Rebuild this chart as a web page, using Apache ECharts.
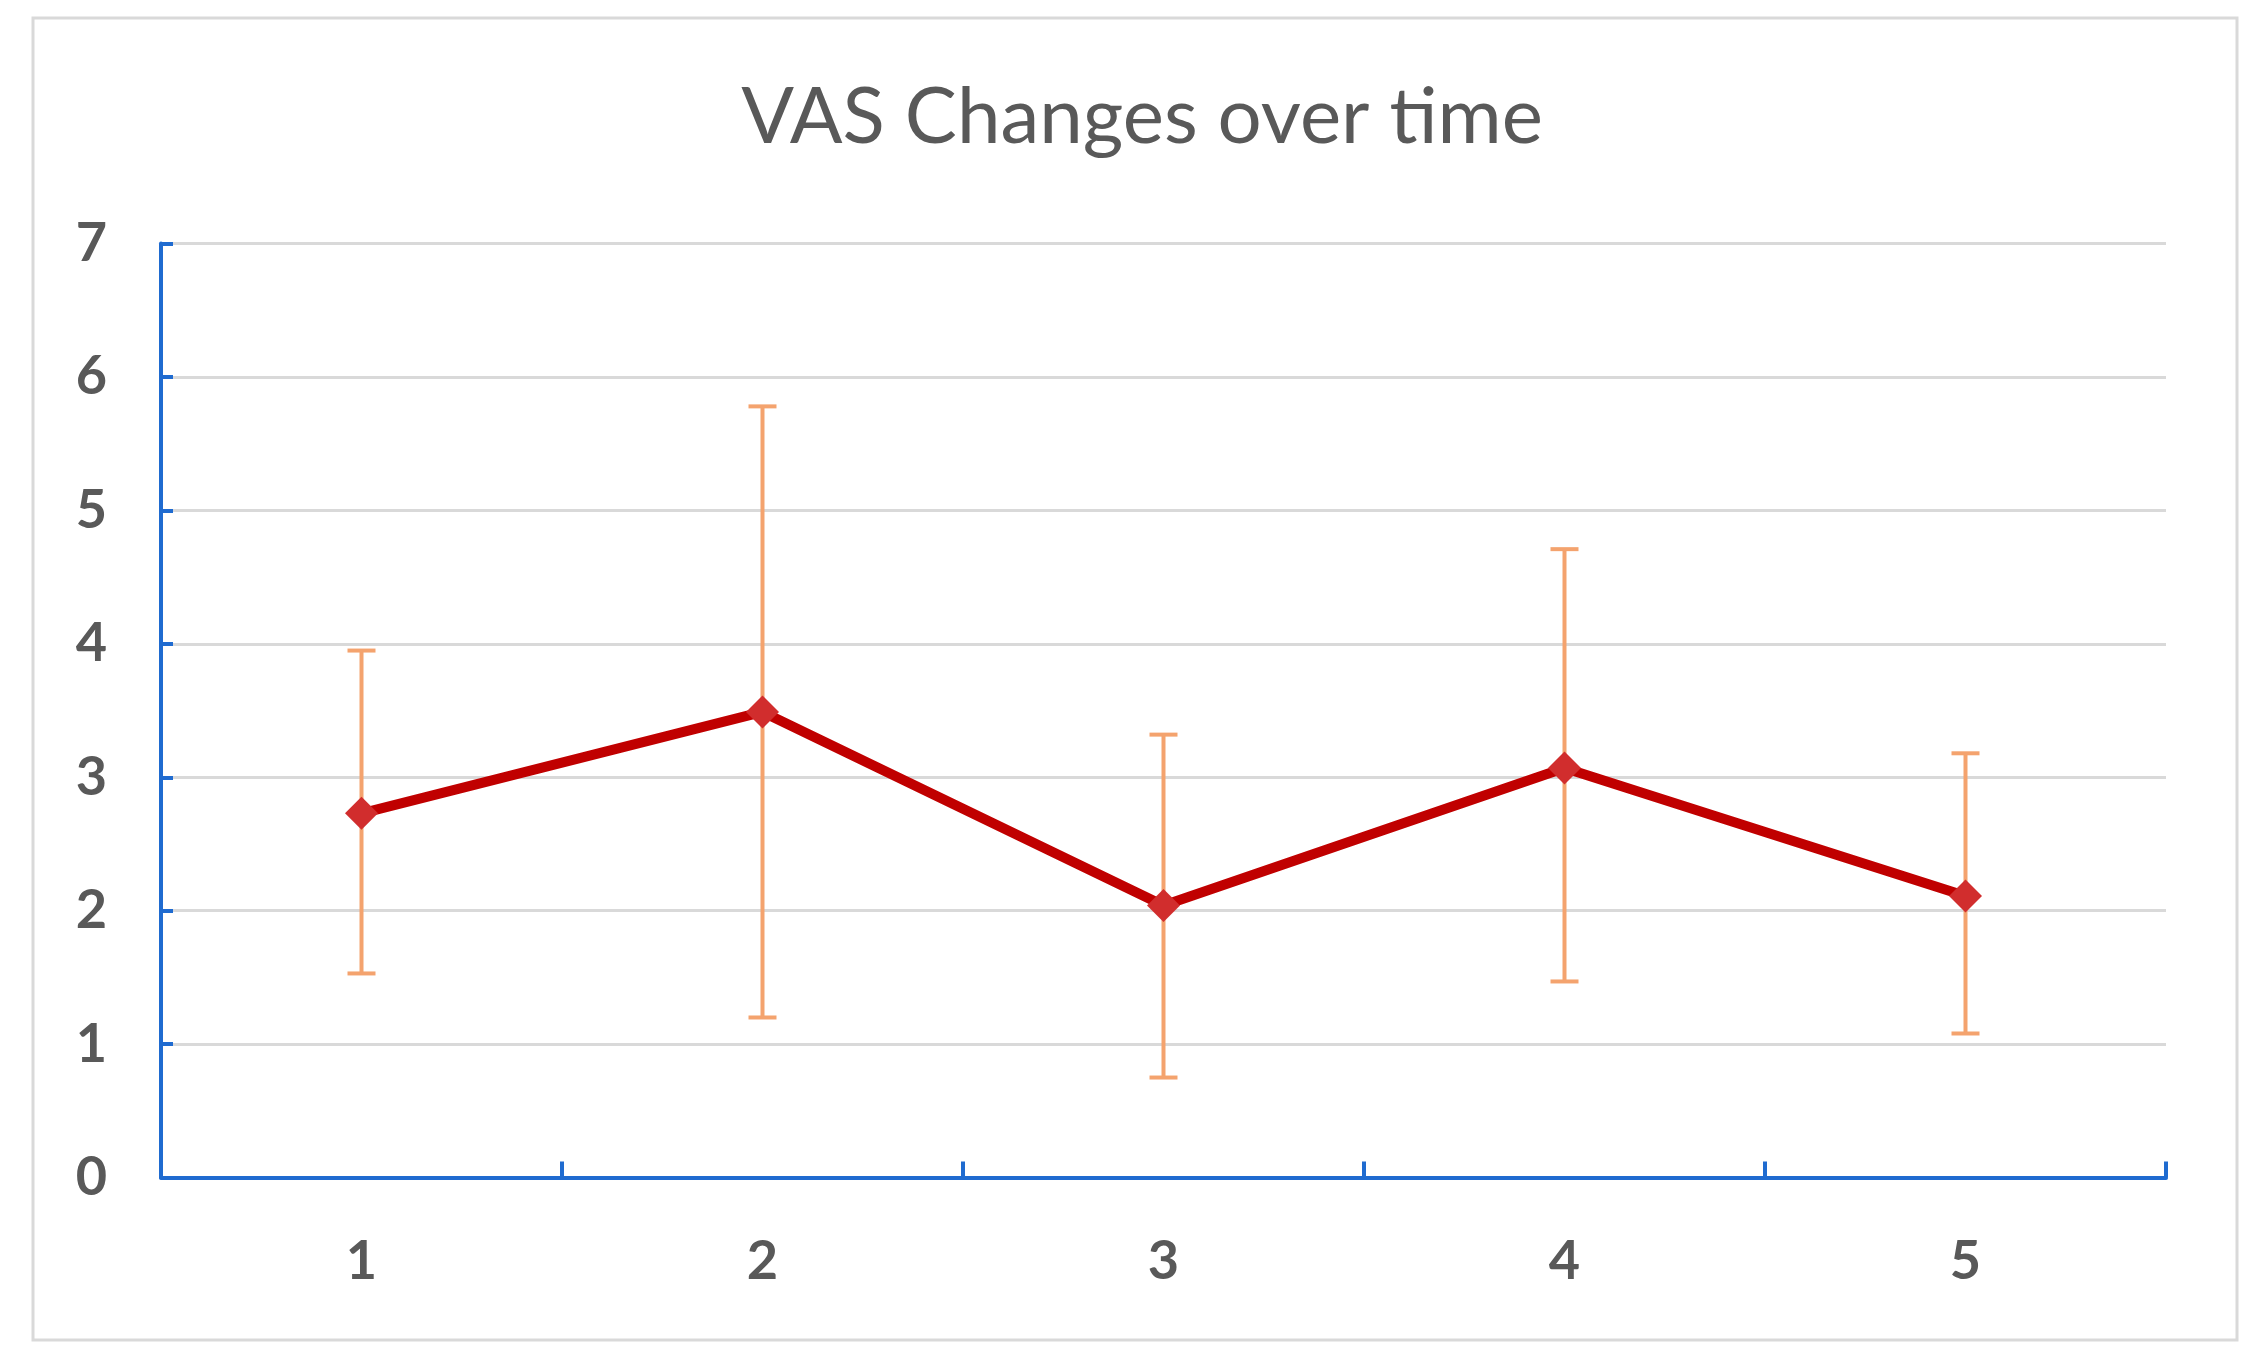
<!DOCTYPE html>
<html>
<head>
<meta charset="utf-8">
<script src="https://cdn.jsdelivr.net/npm/echarts@6/dist/echarts.min.js"></script>
<style>
html,body{margin:0;padding:0;background:#fff;}
#chart{width:2260px;height:1367px;}
</style>
</head>
<body>
<div id="chart"></div>
<script>
const titleText = 'VAS Changes over time';
const categories = ['1', '2', '3', '4', '5'];
const meanValues = [2.73, 3.49, 2.04, 3.07, 2.11];
const errLow = [1.53, 1.20, 0.75, 1.47, 1.08];
const errHigh = [3.95, 5.78, 3.32, 4.71, 3.18];
const yTicks = [0, 1, 2, 3, 4, 5, 6, 7];

const chart = echarts.init(document.getElementById('chart'));
const errData = categories.map((c, i) => [i, errLow[i], errHigh[i]]);

const option = {
  backgroundColor: '#ffffff',
  animation: false,
  title: {
    text: titleText,
    left: 1137,
    textAlign: 'center',
    top: 74,
    textStyle: { fontFamily: 'Lato', fontWeight: 'normal', fontSize: 78, color: '#595959' }
  },
  graphic: [{
    type: 'rect',
    shape: { x: 33, y: 18, width: 2204, height: 1322 },
    style: { fill: 'none', stroke: '#d9d9d9', lineWidth: 3 },
    silent: true, z: -1
  }],
  grid: { left: 161, right: 94, top: 243.6, bottom: 189.4, containLabel: false },
  xAxis: {
    type: 'category',
    data: categories,
    boundaryGap: true,
    axisLine: { lineStyle: { color: '#1f6bd0', width: 4 } },
    axisTick: { show: true, inside: true, length: 16, lineStyle: { color: '#1f6bd0', width: 4 } },
    axisLabel: { margin: 57, fontFamily: 'Lato', fontWeight: 'bold', fontSize: 54, color: '#595959' },
    splitLine: { show: false }
  },
  yAxis: {
    type: 'value',
    min: yTicks[0],
    max: yTicks[yTicks.length - 1],
    interval: 1,
    axisLine: { show: true, lineStyle: { color: '#1f6bd0', width: 4 } },
    axisTick: { show: true, inside: true, length: 12, lineStyle: { color: '#1f6bd0', width: 4 } },
    axisLabel: { margin: 54, fontFamily: 'Lato', fontWeight: 'bold', fontSize: 54, color: '#595959' },
    splitLine: { show: true, lineStyle: { color: '#d9d9d9', width: 3 } }
  },
  series: [
    {
      type: 'custom',
      z: 2,
      data: errData,
      renderItem: function (params, api) {
        const x = api.value(0);
        const lo = api.coord([x, api.value(1)]);
        const hi = api.coord([x, api.value(2)]);
        const cap = 14;
        const style = { stroke: '#f4a36e', lineWidth: 4, fill: 'none' };
        return {
          type: 'group',
          children: [
            { type: 'line', shape: { x1: lo[0], y1: lo[1], x2: hi[0], y2: hi[1] }, style: style },
            { type: 'line', shape: { x1: lo[0] - cap, y1: lo[1], x2: lo[0] + cap, y2: lo[1] }, style: style },
            { type: 'line', shape: { x1: hi[0] - cap, y1: hi[1], x2: hi[0] + cap, y2: hi[1] }, style: style }
          ]
        };
      }
    },
    {
      type: 'line',
      z: 3,
      data: meanValues,
      symbol: 'diamond',
      symbolSize: 33,
      lineStyle: { color: '#c00000', width: 10 },
      itemStyle: { color: '#d12d2d' }
    }
  ]
};
chart.setOption(option);
</script>
</body>
</html>
